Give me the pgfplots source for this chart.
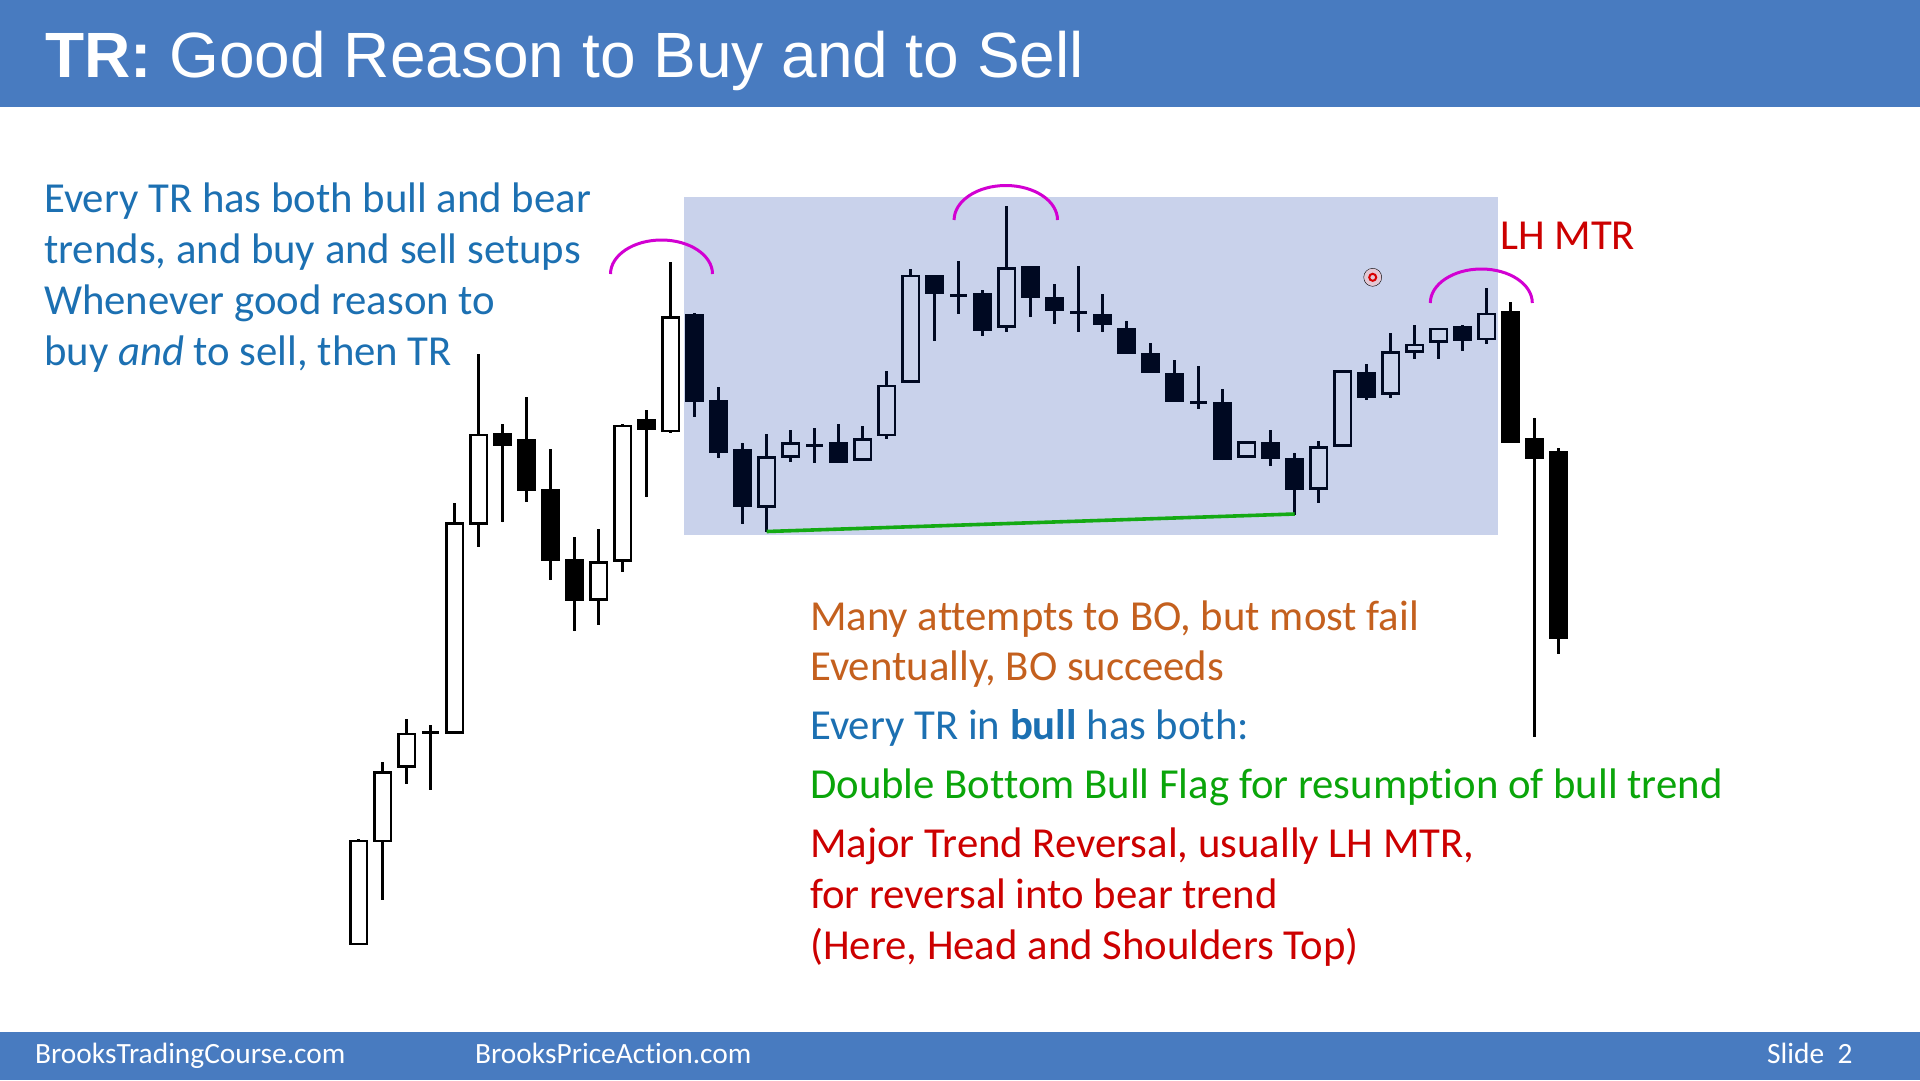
\documentclass[border=0pt]{standalone}
\usepackage{pgfplots}
\pgfplotsset{compat=1.18}
\usepackage{pgfplotstable}
\usepgfplotslibrary{statistics}
\usepackage{fontspec}
\setmainfont[Ligatures=NoCommon]{Carlito}
\newfontfamily\arialf{Liberation Sans}
\definecolor{band}{RGB}{72,123,192}
\definecolor{trbox}{RGB}{0,47,165}
\definecolor{tblue}{RGB}{28,112,178}
\definecolor{torange}{RGB}{196,96,30}
\definecolor{tgreen}{RGB}{10,165,10}
\definecolor{tred}{RGB}{204,0,0}
\definecolor{arcm}{RGB}{210,0,210}
\definecolor{lgreen}{RGB}{20,170,20}

% candle data in screen pixels (y grows downward): x open high low close
\pgfplotstableread{
x o h l c
358.7 944 839 944 841
382.7 841 762 900 772.7
406.7 766.7 719 784 734
430.7 732.3 725 790 732.3
454.7 732.3 502.7 734 523.3
478.7 523.3 354 546.7 435
502.7 434.3 424 522.3 445
526.7 440.7 397.3 501.7 489.3
550.7 490 449 580 559.3
574.7 560.7 537.3 631 600
598.7 599.3 529.3 625 562.7
622.7 560.7 424 571.7 426
646.7 420 410 497.3 429
670.7 431 261.7 432.7 317.3
694.7 315 313.3 416.7 400.7
718.7 401.7 387 458.3 451.7
742.7 450.7 442.7 524 505.3
766.7 506.7 434.3 531.7 457.3
790.7 456.7 430 461.7 443.3
814.7 445.7 428.3 462.7 445.7
838.7 443.3 424 461.7 461.7
862.7 459.3 426 459.3 439.3
886.7 435 370.7 439.3 386
910.7 381.7 269.3 383.3 276
934.7 276 276 340.7 292.7
958.7 295.7 261 314 295.7
982.7 294.3 290 336 330
1006.7 326.7 205.7 331.7 268.3
1030.7 267.7 266 317.3 296.7
1054.7 298.3 284 324 309.3
1078.7 312.3 265.7 332 312.3
1102.7 315 294.3 332.3 324
1126.7 329 320.7 352.7 352.7
1150.7 354 343.3 371.7 371.7
1174.7 374.3 360 400.7 400.7
1198.7 402.3 366 409 402.3
1222.7 403.3 389 460 458.3
1246.7 456.7 442.3 456.7 442.3
1270.7 443.3 430 466 457.7
1294.7 459 452.7 515 488.3
1318.7 488.3 440.7 503.3 447.7
1342.7 445.7 371.7 445.7 371.7
1366.7 373.3 364 400 396.7
1390.7 393.3 333.3 398.3 352.7
1414.7 351.7 325 359 345
1438.7 341.7 329 359 329
1462.7 327.7 325 350.7 340
1486.7 339 287.7 343.5 314
1510.7 312.7 302.3 441.7 441.7
1534.7 439.3 417.7 736.7 457.3
1558.7 452.7 448.3 654 637.7
}\candles

\begin{document}
\begin{tikzpicture}
\begin{axis}[
  at={(0,0)}, anchor=south west,
  scale only axis, width=1920pt, height=1080pt,
  xmin=0, xmax=1920, ymin=0, ymax=1080,
  y dir=reverse, hide axis, clip=false,
  boxplot/draw direction=y,
  candle/.style={black, solid, line width=2.8pt,
    boxplot/box extend=16.5, boxplot/whisker extend=0},
]
% background and bands
\fill[white] (axis cs:0,0) rectangle (axis cs:1920,1080);
\fill[band] (axis cs:0,0) rectangle (axis cs:1920,107);
\fill[band] (axis cs:0,1032) rectangle (axis cs:1920,1080);

% candles
\pgfplotsforeachungrouped \i in {0,...,50}{%
  \pgfplotstablegetelem{\i}{x}\of\candles \let\candX\pgfplotsretval
  \pgfplotstablegetelem{\i}{o}\of\candles \let\candO\pgfplotsretval
  \pgfplotstablegetelem{\i}{h}\of\candles \let\candH\pgfplotsretval
  \pgfplotstablegetelem{\i}{l}\of\candles \let\candL\pgfplotsretval
  \pgfplotstablegetelem{\i}{c}\of\candles \let\candC\pgfplotsretval
  \pgfmathsetmacro\candT{min(\candO,\candC)}%
  \pgfmathsetmacro\candB{max(\candO,\candC)}%
  \ifdim\candC pt<\candO pt \def\candF{white}\else\def\candF{black}\fi
  \ifdim\candC pt=\candO pt \def\candF{white}\fi
  \edef\doplot{\noexpand\addplot[candle, fill=\candF,
    boxplot/every box/.append style={fill=\candF},
    boxplot prepared={draw position=\candX, lower whisker=\candH,
      lower quartile=\candT, median=\candT, upper quartile=\candB,
      upper whisker=\candL}] coordinates {};}%
  \doplot
}

% trading range box (translucent)
\fill[trbox, fill opacity=0.212] (axis cs:684,196.7) rectangle (axis cs:1497.7,535.3);

% double bottom line
\addplot[lgreen, line width=3.6pt] coordinates {(766.7,531.5) (1294.7,514)};

% head and shoulders arcs
\draw[arcm, line width=3pt] (axis cs:712.5,274) arc[start angle=0, end angle=180, x radius=51pt, y radius=34pt];
\draw[arcm, line width=3pt] (axis cs:1057.5,220) arc[start angle=0, end angle=180, x radius=51.7pt, y radius=34.5pt];
\draw[arcm, line width=3pt] (axis cs:1532.3,303) arc[start angle=0, end angle=180, x radius=51pt, y radius=34pt];

% pointer
\addplot[only marks, mark=*, mark size=9pt, mark options={draw=none, fill=red!25, fill opacity=0.5}] coordinates {(1372.7,277.3)};
\addplot[only marks, mark=o, mark size=3.5pt, mark options={draw=red!85!black, line width=2pt}] coordinates {(1372.7,277.3)};

% title
\node[anchor=base west, inner sep=0pt, text=white, font=\arialf\fontsize{64}{76}\selectfont] at (axis cs:45,77) {\textbf{TR:} Good Reason to Buy and to Sell};

% left text
\begin{scope}[every node/.style={anchor=base west, inner sep=0pt, text=tblue, font=\fontsize{42.75}{51}\selectfont}]
\node at (axis cs:44,212) {Every TR has both bull and bear};
\node at (axis cs:44,263) {trends, and buy and sell setups};
\node at (axis cs:44,314) {Whenever good reason to};
\node at (axis cs:44,365) {buy \textit{and} to sell, then TR};
\end{scope}

\node[anchor=base west, inner sep=0pt, text=tred, font=\fontsize{42.75}{51}\selectfont] at (axis cs:1500,249) {LH MTR};

% right text block
\begin{scope}[every node/.style={anchor=base west, inner sep=0pt, font=\fontsize{42.75}{51}\selectfont}]
\node[text=torange] at (axis cs:810,630) {Many attempts to BO, but most fail};
\node[text=torange] at (axis cs:810,680) {Eventually, BO succeeds};
\node[text=tblue] at (axis cs:810,739) {Every TR in \textbf{bull} has both:};
\node[text=tgreen] at (axis cs:810,798) {Double Bottom Bull Flag for resumption of bull trend};
\node[text=tred] at (axis cs:810,857.5) {Major Trend Reversal, usually LH MTR,};
\node[text=tred] at (axis cs:810,908.5) {for reversal into bear trend};
\node[text=tred] at (axis cs:810,959.5) {(Here, Head and Shoulders Top)};
\end{scope}

% footer
\begin{scope}[every node/.style={anchor=base west, inner sep=0pt, text=white, font=\fontsize{29.4}{35}\selectfont}]
\node at (axis cs:35,1063) {BrooksTradingCourse.com};
\node at (axis cs:475,1063) {BrooksPriceAction.com};
\node at (axis cs:1767,1063) {Slide\ \ 2};
\end{scope}
\end{axis}
\end{tikzpicture}
\end{document}
